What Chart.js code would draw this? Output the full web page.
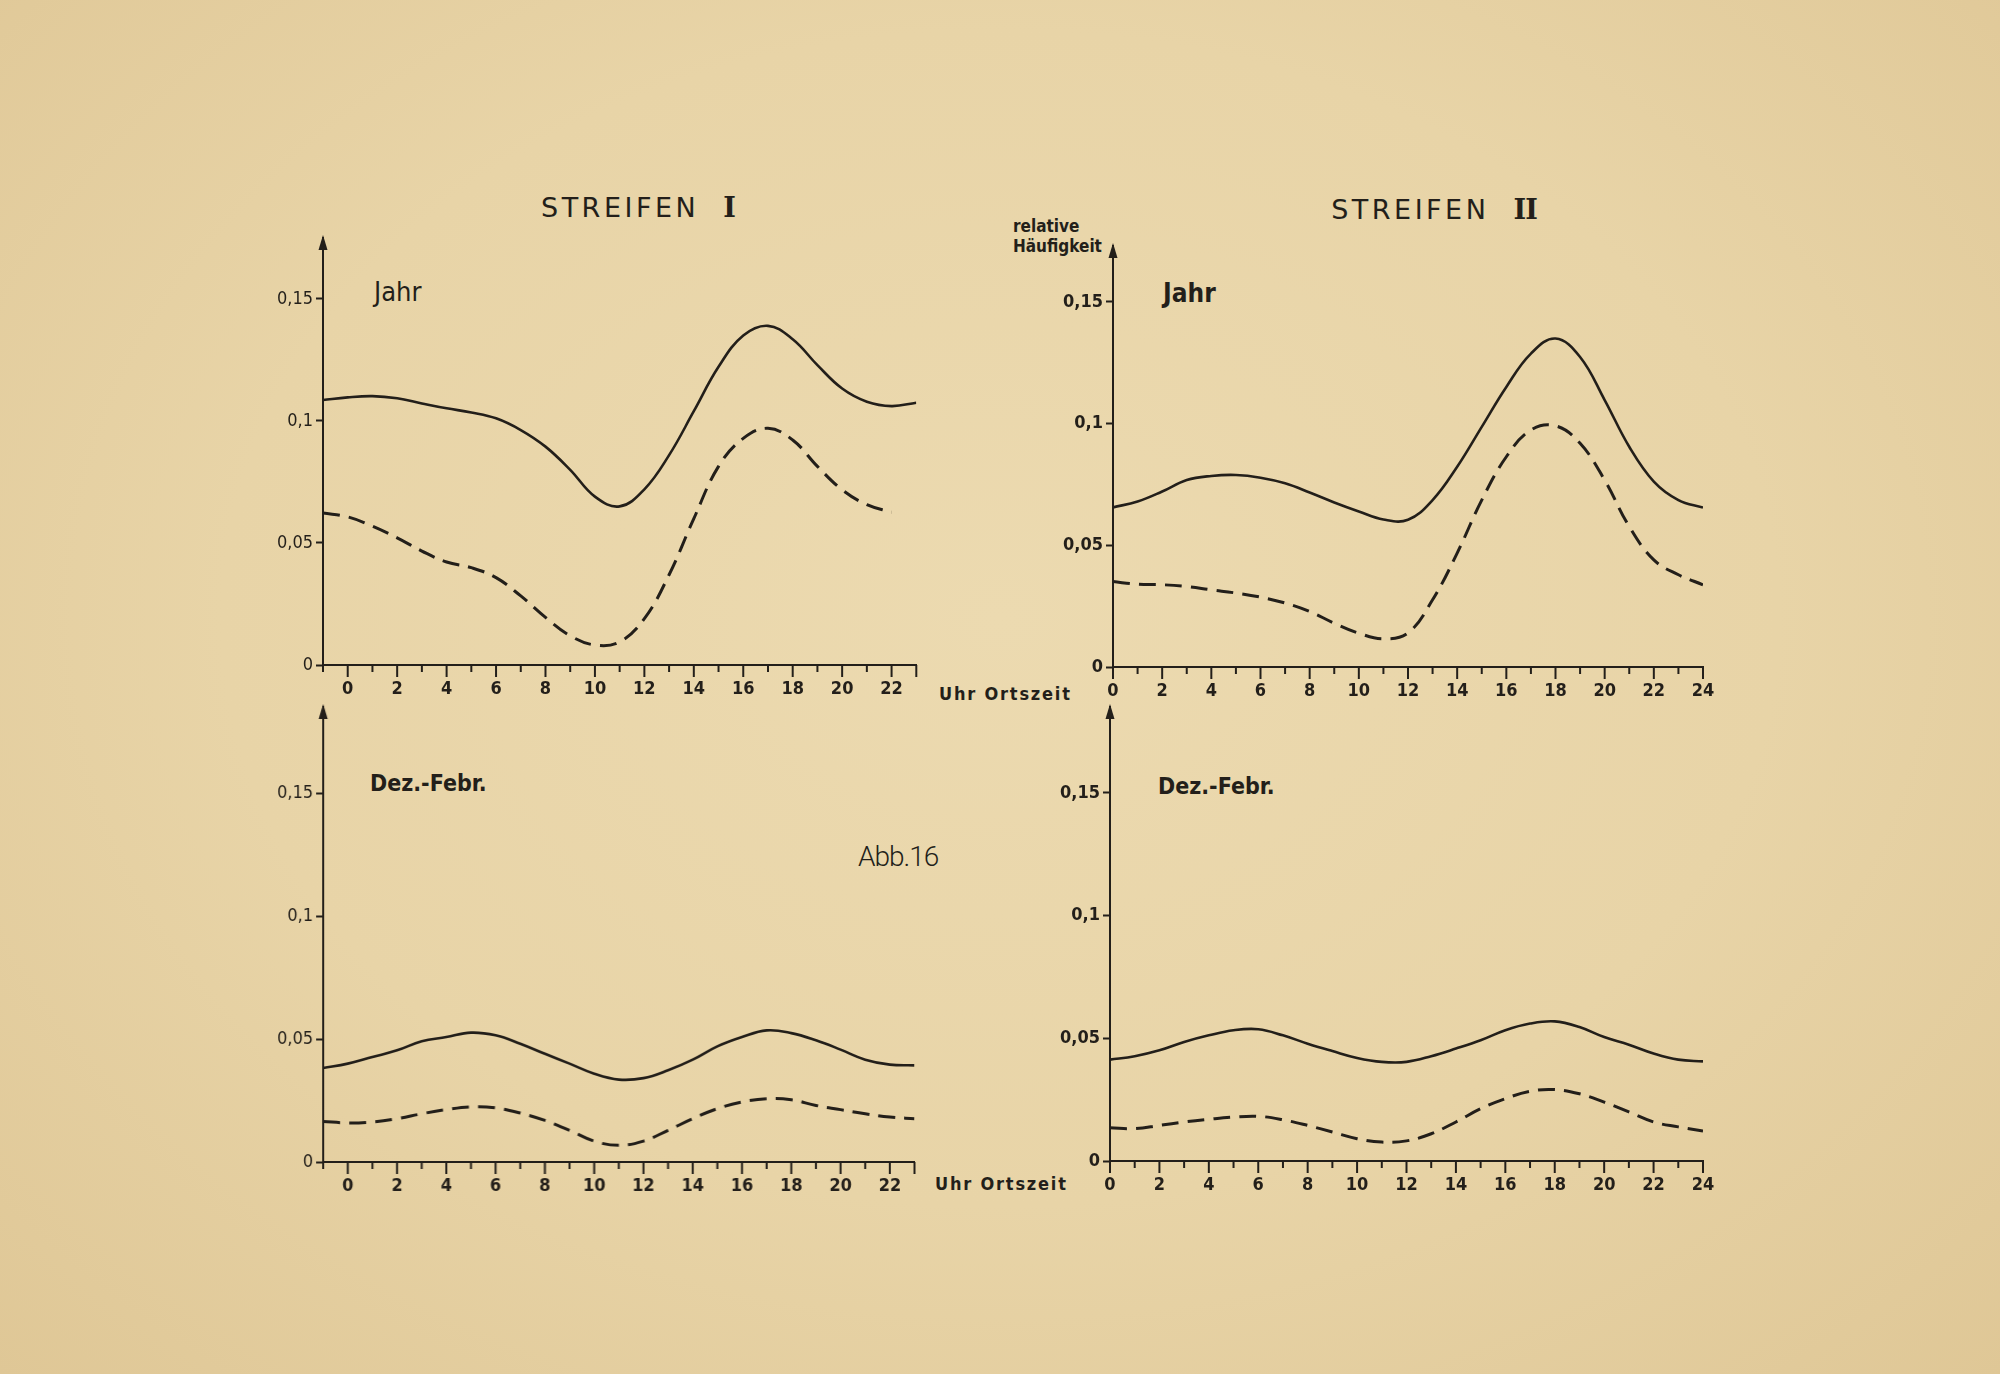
<!DOCTYPE html>
<html>
<head>
<meta charset="utf-8">
<script src="https://cdn.jsdelivr.net/npm/chart.js@4.4.1/dist/chart.umd.min.js"></script>
<style>
  html, body { margin: 0; padding: 0; }
  body {
    width: 2000px; height: 1374px; position: relative; overflow: hidden;
    background: radial-gradient(ellipse at 50% 45%, #ecdab0 0%, #e8d4a7 55%, #dfc796 100%);
    color: #231f1a;
    font-family: "DejaVu Sans Condensed", "DejaVu Sans", sans-serif;
  }
  .panel { position: absolute; }
  .txt { position: absolute; white-space: nowrap; line-height: 1; }
  .title { font-family: "DejaVu Sans", sans-serif; font-size: 27px; letter-spacing: 3.5px; transform: translateX(-50%); }
  .rn { font-family: "DejaVu Serif", "Liberation Serif", serif; font-weight: bold; letter-spacing: -1px; }
  .bold { font-weight: bold; }
</style>
</head>
<body>

<div class="txt title" style="left:638px; top:194px;">STREIFEN&nbsp;&nbsp;<span class="rn">I</span></div>
<div class="txt title" style="left:1434px; top:196px;">STREIFEN&nbsp;&nbsp;<span class="rn">II</span></div>

<div class="txt bold" style="left:1013px; top:218px; font-size:17px;">relative</div>
<div class="txt bold" style="left:1013px; top:238px; font-size:17px;">Häufigkeit</div>

<div class="txt" style="left:374px; top:278px; font-size:27px;">Jahr</div>
<div class="txt bold" style="left:1163px; top:280px; font-size:26px;">Jahr</div>
<div class="txt bold" style="left:370px; top:772px; font-size:23px;">Dez.-Febr.</div>
<div class="txt bold" style="left:1158px; top:775px; font-size:23px;">Dez.-Febr.</div>

<div class="txt" style="left:858px; top:843px; font-size:28px; font-family:Roboto, sans-serif; font-weight:300; letter-spacing:-1px;">Abb.16</div>

<div class="txt bold" style="left:939px; top:685px; font-size:18px; letter-spacing:1.8px;">Uhr Ortszeit</div>
<div class="txt bold" style="left:935px; top:1175px; font-size:18px; letter-spacing:1.8px;">Uhr Ortszeit</div>

<div class="panel" id="pTL"><canvas id="cTL"></canvas></div>
<div class="panel" id="pTR"><canvas id="cTR"></canvas></div>
<div class="panel" id="pBL"><canvas id="cBL"></canvas></div>
<div class="panel" id="pBR"><canvas id="cBR"></canvas></div>

<script>
// hours (Uhr Ortszeit)
const hoursI  = [-1, 0, 1, 2, 3, 4, 5, 6, 7, 8, 9, 10, 11, 12, 13, 14, 15, 16, 17, 18, 19, 20, 21, 22, 23];
const hoursII = [0, 1, 2, 3, 4, 5, 6, 7, 8, 9, 10, 11, 12, 13, 14, 15, 16, 17, 18, 19, 20, 21, 22, 23, 24];
const xLabelHours = [0, 2, 4, 6, 8, 10, 12, 14, 16, 18, 20, 22, 24];

const yTickValues = [0, 0.05, 0.1, 0.15];
const yTickLabels = ['0', '0,05', '0,1', '0,15'];

// Streifen I, Jahr
const jahrSolidI  = [0.1086, 0.1097, 0.1102, 0.1093, 0.1072, 0.1052, 0.1035, 0.1011, 0.0963, 0.0895, 0.0800, 0.0690,
                     0.0650, 0.0720, 0.0860, 0.1040, 0.1222, 0.1350, 0.1390, 0.1335, 0.1229, 0.1133, 0.1079, 0.1061, 0.1075];
const jahrDashedI = [0.0623, 0.0607, 0.0569, 0.0521, 0.0467, 0.0422, 0.0399, 0.0358, 0.0283, 0.0195, 0.0120, 0.0082,
                     0.0095, 0.0190, 0.0370, 0.0600, 0.0814, 0.0929, 0.0970, 0.0922, 0.0814, 0.0718, 0.0657, 0.0626];

// Streifen II, Jahr
const jahrSolidII  = [0.0656, 0.0680, 0.0721, 0.0768, 0.0785, 0.0789, 0.0778, 0.0755, 0.0717, 0.0676, 0.0639, 0.0606,
                      0.0605, 0.0686, 0.0823, 0.0987, 0.1151, 0.1288, 0.1350, 0.1274, 0.1097, 0.0905, 0.0762, 0.0686, 0.0655];
const jahrDashedII = [0.0351, 0.0340, 0.0338, 0.0331, 0.0317, 0.0304, 0.0287, 0.0263, 0.0228, 0.0180, 0.0139, 0.0116,
                      0.0140, 0.0276, 0.0468, 0.0686, 0.0864, 0.0974, 0.0991, 0.0919, 0.0768, 0.0577, 0.0440, 0.0379, 0.0338];

// Streifen I, Dez.-Febr.
const dezSolidI  = [0.0382, 0.0400, 0.0427, 0.0454, 0.0491, 0.0508, 0.0526, 0.0515, 0.0481, 0.0440, 0.0400, 0.0359,
                    0.0335, 0.0341, 0.0373, 0.0416, 0.0470, 0.0508, 0.0535, 0.0524, 0.0495, 0.0457, 0.0416, 0.0396, 0.0393];
const dezDashedI = [0.0165, 0.0159, 0.0163, 0.0176, 0.0196, 0.0213, 0.0224, 0.0220, 0.0199, 0.0169, 0.0129, 0.0085,
                    0.0068, 0.0085, 0.0129, 0.0176, 0.0217, 0.0244, 0.0257, 0.0253, 0.0230, 0.0213, 0.0196, 0.0183, 0.0176];

// Streifen II, Dez.-Febr.
const dezSolidII  = [0.0413, 0.0427, 0.0451, 0.0485, 0.0512, 0.0533, 0.0537, 0.0512, 0.0478, 0.0448, 0.0420, 0.0404,
                     0.0404, 0.0427, 0.0458, 0.0492, 0.0533, 0.0560, 0.0569, 0.0546, 0.0505, 0.0474, 0.0438, 0.0413, 0.0406];
const dezDashedII = [0.0135, 0.0132, 0.0145, 0.0159, 0.0170, 0.0179, 0.0182, 0.0168, 0.0145, 0.0118, 0.0091, 0.0077,
                     0.0082, 0.0111, 0.0159, 0.0213, 0.0254, 0.0284, 0.0291, 0.0274, 0.0240, 0.0200, 0.0159, 0.0139, 0.0122];

const ink = '#231f1a';
const fontFamily = "'DejaVu Sans Condensed', 'DejaVu Sans', sans-serif";
const Y_AXIS_W = 90, X_AXIS_H = 60, PAD_TOP = 20, PAD_RIGHT = 30;

// arrow on the y axis and long/short hour ticks on the x axis
const axisDecor = {
  id: 'axisDecor',
  afterDraw(chart) {
    const { ctx, chartArea, scales: { x } } = chart;
    ctx.save();
    ctx.strokeStyle = ink;
    ctx.fillStyle = ink;
    ctx.lineWidth = 2;
    x.ticks.forEach(t => {
      const px = x.getPixelForValue(t.value);
      const len = (t.value % 2 === 0 || t.value === x.max) ? 12 : 7;
      ctx.beginPath();
      ctx.moveTo(px, chartArea.bottom);
      ctx.lineTo(px, chartArea.bottom + len);
      ctx.stroke();
    });
    const ax = chartArea.left;
    ctx.beginPath();
    ctx.moveTo(ax, chartArea.top - 3);
    ctx.lineTo(ax - 4.5, chartArea.top + 12);
    ctx.lineTo(ax + 4.5, chartArea.top + 12);
    ctx.closePath();
    ctx.fill();
    ctx.restore();
  }
};

function points(hours, vals) {
  return vals.map((v, i) => ({ x: hours[i], y: v }));
}

function makePanel(id, opt) {
  const box = document.getElementById('p' + id);
  box.style.left = (opt.axisX - Y_AXIS_W) + 'px';
  box.style.top = (opt.topY - PAD_TOP) + 'px';
  box.style.width = (opt.rightX - opt.axisX + Y_AXIS_W + PAD_RIGHT) + 'px';
  box.style.height = (opt.zeroY - opt.topY + PAD_TOP + X_AXIS_H) + 'px';

  new Chart(document.getElementById('c' + id), {
    type: 'line',
    data: {
      datasets: [{
        data: points(opt.hours, opt.solid),
        borderColor: ink,
        borderWidth: 2.6,
        pointRadius: 0,
        tension: 0.4,
        fill: false
      }, {
        data: points(opt.hours, opt.dashed),
        borderColor: ink,
        borderWidth: 3,
        borderDash: [17, 9],
        pointRadius: 0,
        tension: 0.4,
        fill: false
      }]
    },
    options: {
      responsive: true,
      maintainAspectRatio: false,
      animation: false,
      layout: { padding: { top: PAD_TOP, right: PAD_RIGHT, left: 0, bottom: 0 } },
      plugins: { legend: { display: false }, tooltip: { enabled: false } },
      scales: {
        x: {
          type: 'linear',
          min: opt.hours[0],
          max: opt.hours[opt.hours.length - 1],
          afterBuildTicks: s => { s.ticks = opt.hours.map(v => ({ value: v })); },
          afterFit: s => { s.height = X_AXIS_H; },
          border: { display: true, color: ink, width: 2 },
          grid: { drawOnChartArea: false, drawTicks: true, tickLength: 12, tickColor: 'rgba(0,0,0,0)' },
          ticks: {
            color: ink,
            padding: 2,
            maxRotation: 0,
            autoSkip: false,
            font: { family: fontFamily, size: 18, weight: 'bold' },
            callback: v => xLabelHours.includes(v) ? String(v) : ''
          }
        },
        y: {
          min: 0,
          max: opt.yMax,
          afterBuildTicks: s => { s.ticks = yTickValues.map(v => ({ value: v })); },
          afterFit: s => { s.width = Y_AXIS_W; },
          border: { display: true, color: ink, width: 2 },
          grid: { drawOnChartArea: false, drawTicks: true, tickLength: 7, tickColor: ink, tickWidth: 2 },
          ticks: {
            color: ink,
            padding: 3,
            font: { family: fontFamily, size: 18, weight: opt.yBold ? 'bold' : 'normal' },
            callback: v => yTickLabels[yTickValues.indexOf(v)]
          }
        }
      }
    },
    plugins: [axisDecor]
  });
}

makePanel('TL', { hours: hoursI,  solid: jahrSolidI,  dashed: jahrDashedI,  yMax: 0.175, axisX: 322.7, rightX: 916,  zeroY: 664.5,  topY: 237.5, yBold: false });
makePanel('TR', { hours: hoursII, solid: jahrSolidII, dashed: jahrDashedII, yMax: 0.173, axisX: 1113,  rightX: 1703, zeroY: 667,    topY: 246,   yBold: true });
makePanel('BL', { hours: hoursI,  solid: dezSolidI,   dashed: dezDashedI,   yMax: 0.185, axisX: 323,   rightX: 913.5, zeroY: 1162,  topY: 707,   yBold: false });
makePanel('BR', { hours: hoursII, solid: dezSolidII,  dashed: dezDashedII,  yMax: 0.185, axisX: 1110,  rightX: 1703, zeroY: 1160.5, topY: 706.5, yBold: true });
</script>
</body>
</html>
